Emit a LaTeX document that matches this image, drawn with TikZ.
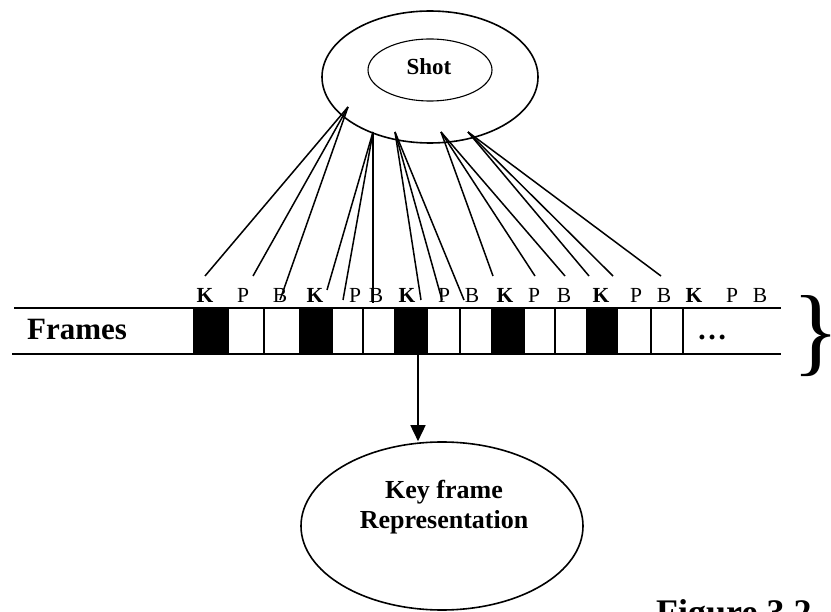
\documentclass[tikz,border=0pt]{standalone}
\usepackage{fontspec}
\setmainfont{Liberation Serif}
\usetikzlibrary{shapes.geometric,arrows.meta,calc}
\begin{document}
\begin{tikzpicture}[x=1pt,y=-1pt,
  lbl/.style={inner sep=0pt,anchor=base,font=\fontsize{21.5}{24}\selectfont},
  keylbl/.style={lbl,font=\bfseries\fontsize{21.5}{24}\selectfont},
  link/.style={line width=1.5pt},
  cell/.style={inner sep=0pt,outer sep=0pt,minimum height=46pt,anchor=west},
  kcell/.style={cell,fill=black},
  strip/.style={line width=1.9pt},
  divider/.style={line width=1.6pt},
  oval/.style={ellipse,draw,inner sep=0pt,line width=1.6pt}]
\useasboundingbox (0,0) rectangle (831,612);

% shot ellipses
\node[oval,minimum width=216pt,minimum height=132pt] (shotout) at (430,77) {};
\node[oval,line width=1.1pt,minimum width=124pt,minimum height=62pt] (shotin) at (430,70) {};
\node[inner sep=0pt,anchor=base,font=\bfseries\fontsize{23}{26}\selectfont] (shot) at (429,75) {Shot};

% frame cells
\node[kcell,minimum width=36pt] (c1) at (193,331) {};
\node[cell,minimum width=35pt] (c2) at (229,331) {};
\node[cell,minimum width=35pt] (c3) at (264,331) {};
\node[kcell,minimum width=34pt] (c4) at (299,331) {};
\node[cell,minimum width=30pt] (c5) at (333,331) {};
\node[cell,minimum width=31pt] (c6) at (363,331) {};
\node[kcell,minimum width=34pt] (c7) at (394,331) {};
\node[cell,minimum width=32pt] (c8) at (428,331) {};
\node[cell,minimum width=31pt] (c9) at (460,331) {};
\node[kcell,minimum width=34pt] (c10) at (491,331) {};
\node[cell,minimum width=30pt] (c11) at (525,331) {};
\node[cell,minimum width=31pt] (c12) at (555,331) {};
\node[kcell,minimum width=32pt] (c13) at (586,331) {};
\node[cell,minimum width=33pt] (c14) at (618,331) {};
\node[cell,minimum width=32pt] (c15) at (651,331) {};
\node[cell,minimum width=98pt] (cdots) at (683,331) {};

% dividers between white cells
\foreach \c in {c2,c5,c8,c11,c14,c15}
  \draw[divider] (\c.north east) -- (\c.south east);

% strip edges
\coordinate (topL) at (14,308);
\coordinate (topR) at (781,308);
\coordinate (botL) at (12,354);
\coordinate (botR) at (781,354);
\draw[strip] (topL) -- (topR);
\draw[strip] (botL) -- (botR);

\node[inner sep=0pt,anchor=base,font=\bfseries\fontsize{31}{34}\selectfont] (frames) at (77,340) {Frames};
\node[inner sep=0pt,anchor=base,font=\bfseries\fontsize{30}{34}\selectfont] (dots) at (712,340) {…};
\node[inner sep=0pt,anchor=center,font=\fontsize{98}{100}\selectfont] (brace) at (816,336) {\}};

% frame type labels
\node[keylbl] (l1) at (205,303) {K};
\node[lbl] (l2) at (243,303) {P};
\node[lbl] (l3) at (280,303) {B};
\node[keylbl] (l4) at (315,303) {K};
\node[lbl] (l5) at (355,303) {P};
\node[lbl] (l6) at (376,303) {B};
\node[keylbl] (l7) at (407,303) {K};
\node[lbl] (l8) at (444,303) {P};
\node[lbl] (l9) at (472,303) {B};
\node[keylbl] (l10) at (505,303) {K};
\node[lbl] (l11) at (534,303) {P};
\node[lbl] (l12) at (564,303) {B};
\node[keylbl] (l13) at (601,303) {K};
\node[lbl] (l14) at (636,303) {P};
\node[lbl] (l15) at (664,303) {B};
\node[keylbl] (l16) at (694,303) {K};
\node[lbl] (l17) at (732,303) {P};
\node[lbl] (l18) at (760,303) {B};

% links from the shot to its frames
\coordinate (tA) at (348,107);
\coordinate (tB) at (373,132);
\coordinate (tC) at (395,132);
\coordinate (tD) at (441,132);
\coordinate (tE) at (468,132);
\coordinate (e1) at (205,276);
\coordinate (e2) at (253,276);
\coordinate (e3) at (280,300);
\coordinate (e4) at (327,290);
\coordinate (e5) at (343,300);
\coordinate (e6) at (373,303);
\coordinate (e7) at (421,300);
\coordinate (e8) at (442,300);
\coordinate (e9) at (464,300);
\coordinate (e10) at (493,276);
\coordinate (e11) at (535,276);
\coordinate (e12) at (565,276);
\coordinate (e13) at (589,276);
\coordinate (e14) at (613,276);
\coordinate (e15) at (661,276);
\foreach \s/\e in {tA/e1,tA/e2,tA/e3,tB/e4,tB/e5,tB/e6,tC/e7,tC/e8,tC/e9,
                   tD/e10,tD/e11,tD/e12,tE/e13,tE/e14,tE/e15}
  \draw[link] (\s) -- (\e);

% key frame representation
\node[oval,minimum width=282pt,minimum height=168pt] (kf) at (442,526) {};
\node[inner sep=0pt,align=center,font=\bfseries\fontsize{26}{30}\selectfont] (kftxt) at (444,507) {Key frame\\Representation};
\coordinate (arrtop) at (418,354);
\draw[line width=1.6pt,-{Triangle[length=16pt,width=15pt]}] (arrtop) -- (arrtop |- kf.north);

% caption, running off the lower edge
\node[inner sep=0pt,anchor=base west,font=\bfseries\fontsize{36}{40}\selectfont] (cap) at (656,624) {Figure 3.2};
\end{tikzpicture}
\end{document}
